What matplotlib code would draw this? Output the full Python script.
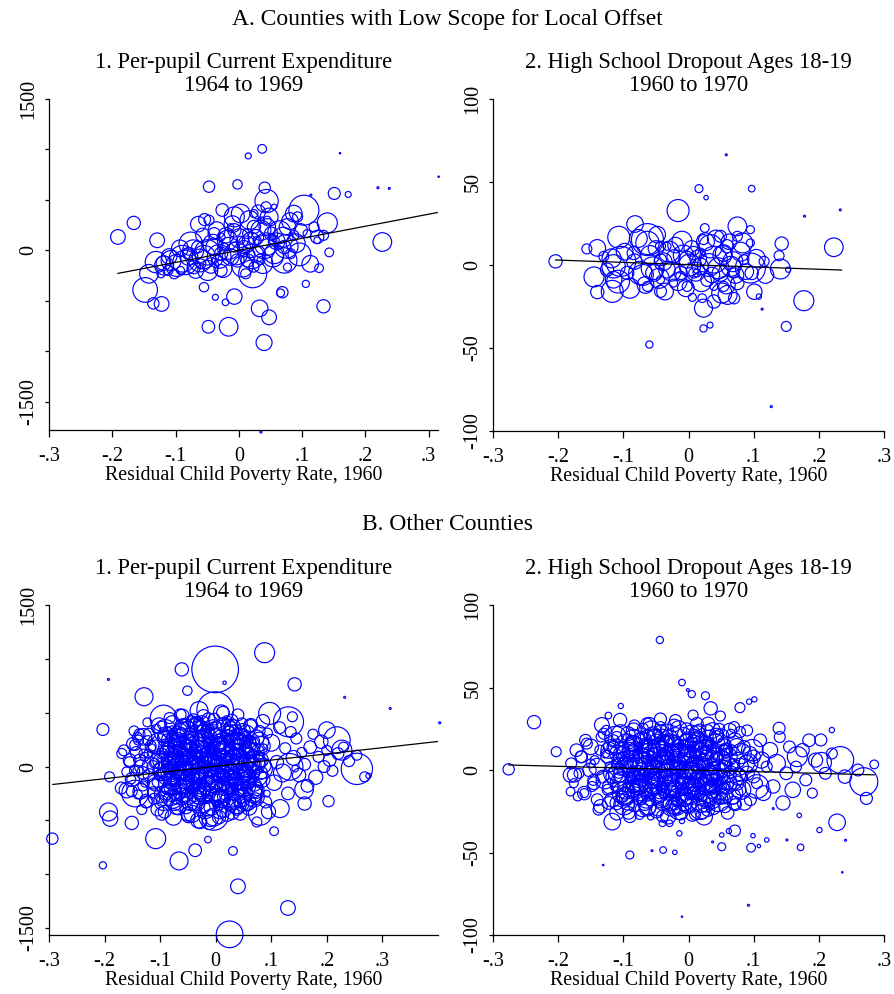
import matplotlib
matplotlib.use("Agg")
import matplotlib.pyplot as plt
import numpy as np

plt.rcParams['font.family'] = ['Liberation Serif', 'DejaVu Serif']

# ---- Panel A1: per-pupil current expenditure, low scope counties ----
a1_x = [-0.191, -0.166, -0.129, -0.047, -0.002, 0.015, 0.037, 0.160, 0.316, 0.220, 0.238, 0.151, 0.173, 0.114,
        0.041, 0.044, 0.043, 0.056, 0.103, 0.087, 0.140, 0.227, 0.143, 0.134, 0.124, 0.113, 0.127, 0.106,
        0.069, 0.066, 0.134, 0.033, 0.048, 0.040, -0.016, -0.048, -0.007, -0.021, -0.037, -0.055, 0.022,
        0.035, -0.148, -0.135, -0.122, -0.142, -0.131, -0.119, -0.107, -0.089, -0.076, -0.054, -0.047,
        -0.055, -0.049, -0.039, -0.028, -0.018, -0.007, 0.003, -0.007, -0.013, -0.002, 0.008, 0.019, 0.014,
        0.024, 0.035, 0.045, 0.051, 0.040, 0.029, 0.014, 0.024, 0.056, 0.072, 0.077, 0.093, 0.098, 0.077,
        0.108, 0.124, -0.071, -0.060, -0.034, -0.023, 0.003, 0.008, -0.007, 0.019, 0.029, 0.056, 0.045,
        0.053, -0.102, -0.092, -0.028, 0.011, 0.035, 0.072, 0.082, 0.087, 0.119, -0.065, -0.081, -0.039,
        -0.028, -0.013, 0.024, 0.035, -0.112, -0.123]
a1_y = [133, 272, 100, 631, 654, 936, 1006, 963, 730, 621, 614, 564, 554, 548,
        621, 488, 432, 432, 398, 365, 272, 83, -20, 149, 100, -133, -176, -332,
        -415, -422, -554, -574, -664, -913, -757, -757, -458, -515, -465, -365, -232,
        -1800, -392, -525, -531, -232, -116, -126, -100, -83, 66, 305, 299,
        -66, -199, 33, -33, 100, 332, 365, 199, -66, -100, 33, 100, 166,
        232, 199, 232, 166, 33, -33, -100, -166, -33, -100, 232, 332, 199, -166,
        166, 133, -166, -133, -100, 33, 100, -33, 33, -33, 100, 100, 299,
        133, -232, -199, -199, -232, -100, 33, -33, 149, 232, 33, -33, 166,
        133, 232, 365, 299, -199, -232]
a1_w = [54, 44, 54, 32, 22, 9, 19, 0.5, 0.5, 1, 1, 36, 9, 1,
        32, 136, 25, 7, 225, 69, 100, 87, 19, 25, 11, 69, 19, 13,
        32, 16, 44, 69, 54, 64, 87, 40, 59, 11, 9, 22, 196,
        1, 152, 32, 54, 87, 114, 54, 100, 178, 136, 36, 25,
        136, 100, 69, 44, 100, 100, 87, 44, 69, 44, 44, 69, 25,
        44, 100, 69, 44, 136, 69, 44, 25, 100, 160, 69, 25, 44, 16,
        16, 44, 44, 25, 25, 16, 16, 11, 25, 16, 16, 25, 16,
        11, 25, 16, 36, 25, 16, 44, 25, 25, 25, 36, 25, 36,
        16, 11, 16, 11, 25, 16]
# denser middle of the cloud
a1c_x = [-0.118, -0.110, -0.098, -0.093, -0.085, -0.079, -0.072, -0.068, -0.061, -0.057, -0.050, -0.044,
         -0.041, -0.035, -0.031, -0.025, -0.020, -0.016, -0.010, -0.004, 0.001, 0.006, 0.012, 0.017, 0.021,
         0.027, 0.031, 0.038, 0.043, 0.048, 0.054, 0.060, 0.064, 0.070, 0.075, 0.081, 0.090, 0.096,
         -0.064, -0.026]
a1c_y = [-150, -60, -150, 20, -120, -60, 0, -200, -100, 150, -20, -150, 60, 200, -60, -180, 150, 20, 260,
         -30, 120, -160, 60, 300, -60, 130, 380, -130, 60, 330, -60, 90, 180, 130, 40, 290, 70, -40, 260, 400]
a1c_w = [90, 60, 120, 70, 150, 80, 110, 60, 130, 50, 160, 60, 100, 70, 140, 80, 60, 120, 70, 130,
         90, 110, 70, 90, 150, 60, 50, 100, 130, 80, 110, 70, 130, 100, 140, 70, 90, 130, 60, 40]
a1_fit = (1194.0, 0.0)          # slope, intercept
a1_fit_range = (-0.191, 0.316)

# ---- Panel A2: high school dropout, low scope counties ----
a2_x = [-0.204, 0.058, 0.016, 0.027, 0.097, -0.016, 0.178, 0.233, 0.223, 0.143, 0.139, 0.141, 0.153, 0.177,
        0.150, 0.113, 0.127, -0.060, 0.023, 0.033, 0.023, 0.006, 0.021, 0.039, 0.051, 0.070, 0.101, 0.108,
        0.097, 0.095, 0.075, 0.095, 0.083, 0.095, 0.116, 0.025, 0.049, 0.034, 0.039, 0.054, 0.065, 0.049,
        0.029, 0.018, 0.008, -0.002, -0.010, -0.012, -0.023, -0.033, -0.043, -0.053, -0.063, -0.063,
        -0.082, -0.107, -0.104, -0.115, -0.117, -0.115, -0.140, -0.156, -0.145, -0.140, -0.043, -0.074,
        -0.084, -0.043, -0.012, 0.013, 0.070, 0.085, -0.125, -0.130, -0.033, -0.063, -0.023, -0.002,
        -0.094, 0.018, 0.059, 0.075, 0.054, 0.039, 0.008, -0.048, 0.023, -0.043, 0.075]
a2_y = [2.2, 66.4, 46.0, 40.6, 46.0, 32.8, 29.4, 33.2, 10.7, 12.9, 5.6, -2.4, -2.8, -21.5,
        -37.0, -26.6, -85.3, -47.9, -38.2, -36.2, -26.0, -19.5, -20.0, -22.0, -16.9, -20.0, -16.1, -19.0,
        -4.8, -1.8, 23.3, 21.3, 13.3, 13.3, 2.2, 22.3, 17.3, 11.3, 3.2, 7.2, -0.8, -4.8,
        -8.9, -0.8, 7.2, 3.2, 14.3, -4.8, 5.2, -2.8, 3.2, -4.8, 13.3, 15.3,
        24.7, 16.7, 2.2, -0.8, -15.9, -8.9, 10.3, 9.7, -7.2, -16.3, -15.9, -4.8,
        7.2, 11.3, -6.8, -4.8, -4.8, 3.2, -2.8, 5.2, 11.3, -12.9, -10.9, -12.9,
        -4.8, 7.2, 11.3, -10.9, -12.9, -12.9, -4.8, 18.3, 15.3, -8.9, 17.3]
a2_w = [44, 1, 16, 5, 11, 121, 1, 1, 87, 44, 25, 100, 7, 100,
        25, 1, 1, 13, 13, 9, 81, 16, 19, 44, 100, 32, 59, 7,
        44, 225, 87, 16, 100, 16, 25, 19, 36, 136, 178, 69, 100, 69,
        44, 69, 44, 69, 100, 44, 44, 69, 36, 69, 136, 256,
        69, 121, 225, 136, 121, 69, 69, 25, 100, 44, 36, 136,
        44, 25, 25, 16, 25, 25, 44, 25, 16, 25, 16, 25,
        44, 25, 44, 44, 25, 16, 25, 69, 25, 16, 25]
a2c_x = [-0.118, -0.108, -0.098, -0.090, -0.083, -0.077, -0.070, -0.066, -0.059, -0.055, -0.050, -0.045,
         -0.039, -0.036, -0.030, -0.026, -0.020, -0.016, -0.008, -0.004, 0.002, 0.005, 0.011, 0.015, 0.020,
         0.026, 0.031, 0.036, 0.042, 0.046, 0.052, 0.058, 0.062, 0.068, 0.072, 0.080, 0.088, 0.104, 0.118,
         0.060]
a2c_y = [4, -10, 8, -14, 2, 16, -6, -12, 6, -2, 10, -8, 2, -16, 8, -4, 12, -10, 6, -14, 0, 10, -4, 4, -10,
         14, 0, -6, 16, -2, 6, -12, 14, 2, -6, 8, -4, 4, -6, -18]
a2c_w = [90, 130, 70, 100, 60, 80, 110, 70, 90, 130, 60, 100, 80, 70, 110, 90, 60, 80, 100, 70,
         120, 60, 90, 70, 100, 80, 130, 60, 70, 110, 90, 80, 60, 100, 70, 90, 60, 80, 70, 90]
a2_fit = (-13.8, 0.2)
a2_fit_range = (-0.204, 0.235)

# ---- Panel B1: per-pupil current expenditure, other counties ----
b1_x = [0.088, -0.001, -0.061, -0.193, 0.016, 0.142, -0.129, -0.051, 0.232, 0.314, 0.403, -0.203, -0.169,
        -0.191, -0.294, -0.203, -0.108, -0.066, -0.037, -0.014, 0.031, 0.040, 0.130, 0.025, 0.105, -0.151,
        -0.190, -0.193, 0.203, 0.160, 0.159, 0.254, 0.268, 0.275, 0.254, 0.218, 0.200, 0.227, 0.131, 0.138,
        0.097, 0.133, 0.143, 0.116, 0.080, 0.074, -0.094, -0.097, -0.130, -0.139, -0.160, -0.145, -0.097,
        -0.076, -0.028, -0.004, 0.044, 0.092, -0.001,
        -0.097, -0.092, -0.089, -0.086, -0.083, -0.079, -0.077, -0.074, -0.071, -0.069, -0.066, -0.063,
        -0.061, -0.058, -0.056, -0.053, -0.051, -0.048, -0.046, -0.044, -0.041, -0.039, -0.037, -0.034,
        -0.032, -0.029, -0.027, -0.025, -0.022, -0.019, -0.017, -0.015, -0.012, -0.010, -0.008, -0.005,
        -0.003, 0.000, 0.002, 0.005, 0.007, 0.010, 0.012, 0.015, 0.018, 0.020, 0.023, 0.026, 0.028, 0.031,
        0.034, 0.036, 0.039, 0.042, 0.045, 0.048, 0.051, 0.054, 0.057, 0.060, 0.063, 0.066, 0.069, 0.072,
        0.075, 0.078, 0.082, 0.086, 0.090, 0.093,
        -0.085, -0.080, -0.072, -0.068, -0.062, -0.057, -0.052, -0.047, -0.043, -0.038, -0.033, -0.028,
        -0.024, -0.020, -0.016, -0.011, -0.007, -0.002, 0.003, 0.008, 0.013, 0.017, 0.022, 0.027, 0.032,
        0.037, 0.041, 0.046, 0.052, 0.058, 0.064, 0.070, -0.090, -0.060, -0.030, 0.000, 0.030, 0.060,
        -0.075, -0.045, -0.015, 0.015, 0.045, 0.075, -0.035, 0.005, 0.025, -0.055,
        -0.155, -0.150, -0.145, -0.140, -0.135, -0.130, -0.125, -0.120, -0.117, -0.112, -0.108, -0.105,
        -0.102, -0.100, -0.060, -0.030, 0.010, 0.040, -0.050, -0.010, 0.030, 0.060, 0.100, 0.105, 0.110,
        0.115, 0.120, 0.125, 0.130, 0.140, 0.145, 0.150, 0.155, 0.160, 0.170, 0.175, 0.180, 0.185, 0.190,
        0.195, 0.200, 0.205, 0.210, 0.220, 0.230, 0.240, 0.095, 0.085, -0.165, -0.160, -0.170, 0.135, 0.165]
b1_y = [1057, 902, 902, 809, 778, 763, 648, 704, 642, 539, 406, 344, 121,
        -96, -670, -918, -670, -877, -778, -679, -784, -1113, -1314, -1559, -601, -524,
        -484, -422, -322, -344, -214, -22, -96, -87, 105, 245, 338, 152, 415, 462,
        493, -3, -19, -391, -437, -515, 446, 384, 276, 245, -220, -251, -437,
        -468, -515, -453, -437, -251, 524,
        120, -60, 260, -210, 40, 330, -130, 180, -300, 80, -20, 240,
        -190, 390, 130, -90, 20, -260, 300, 190, -40, -350, 90, -150,
        420, 250, -230, 10, -70, 150, 340, -300, 60, -120, 210, -20,
        380, -200, 100, -360, 280, -60, 160, -260, 30, 430, -140, 220, -20, -320,
        110, 330, -90, 200, -210, 50, 280, -40, -280, 130, 380, -130, 20, 240,
        -220, 90, -60, 170, -330, 310,
        170, -20, 110, -80, 60, -140, 200, 100, -200, 30, 170, -110,
        290, -10, 80, -240, 130, 40, -100, 200, -170, 90, -50, 150, 20,
        -160, 260, -10, 160, -90, 60, -170, -250, 300, -290, 300, -250, 230,
        30, -60, 220, 0, 120, -30, -180, 60, -80, 60,
        60, -120, 200, -40, -230, 120, -320, 300, 10, -160, 180, -400,
        380, -70, 470, 520, 500, 480, -440, -480, -430, -380, 220, -150, 40,
        360, -60, 170, -250, 80, 260, -80, 130, 20, 180, 300, -100, 90, 230,
        0, 150, 60, -40, 120, 180, 50, -420, 420, 150, -50, -200, 320, -180]
b1_w = [100, 544, 44, 1, 3, 44, 81, 22, 1, 1, 1, 36, 25,
        25, 32, 13, 100, 81, 40, 11, 19, 54, 54, 178, 19, 44,
        59, 81, 32, 44, 87, 245, 25, 7, 25, 178, 69, 100, 225, 25,
        121, 178, 11, 81, 136, 25, 178, 16, 69, 25, 59, 178, 44,
        69, 44, 225, 44, 11, 336,
        30, 45, 20, 35, 60, 25, 18, 40, 28, 15, 50, 22,
        38, 30, 12, 26, 70, 16, 35, 20, 14, 40, 55, 24,
        18, 45, 30, 20, 65, 12, 28, 22, 35, 16, 50, 25,
        14, 40, 20, 30, 36, 18, 60, 25, 45, 20, 32, 15, 28, 50,
        22, 40, 16, 30, 45, 18, 25, 38, 20, 28, 35, 22, 50, 14,
        30, 26, 40, 18, 35, 25,
        30, 45, 25, 40, 35, 50, 28, 42, 33, 48, 26, 38,
        34, 46, 27, 40, 32, 50, 29, 41, 36, 47, 25, 39, 31,
        44, 28, 37, 33, 49, 26, 40, 45, 38, 46, 30, 36, 43,
        22, 25, 20, 24, 21, 23, 18, 20, 19, 22,
        40, 50, 30, 25, 60, 20, 45, 35, 70, 28, 50, 40,
        60, 22, 45, 80, 60, 35, 50, 70, 45, 60, 70, 60, 45,
        35, 80, 30, 40, 55, 30, 45, 25, 35, 40, 25, 50, 30, 45,
        35, 25, 40, 30, 35, 25, 30, 50, 45, 30, 25, 35, 30, 40]
# the solid core of the cloud
b1c_x = [-0.108, -0.104, -0.099, -0.094, -0.091, -0.087, -0.084, -0.081, -0.078, -0.076,
         -0.073, -0.070, -0.067, -0.065, -0.062, -0.059, -0.057, -0.054, -0.052, -0.049,
         -0.047, -0.044, -0.042, -0.040, -0.038, -0.035, -0.033, -0.031, -0.028, -0.026,
         -0.024, -0.021, -0.019, -0.016, -0.014, -0.011, -0.009, -0.006, -0.004, -0.001,
         0.001, 0.004, 0.006, 0.009, 0.011, 0.014, 0.016, 0.019, 0.022, 0.024,
         0.027, 0.029, 0.032, 0.035, 0.037, 0.040, 0.043, 0.046, 0.049, 0.052,
         0.055, 0.058, 0.061, 0.064, 0.067, 0.071, 0.074, 0.077, 0.081, 0.084,
         -0.102, -0.096, -0.090, -0.085, -0.079, -0.074, -0.069, -0.064, -0.060, -0.055,
         -0.050, -0.046, -0.041, -0.037, -0.032, -0.028, -0.023, -0.018, -0.013, -0.009,
         -0.004, 0.000, 0.005, 0.009, 0.014, 0.018, 0.023, 0.027, 0.032, 0.036,
         0.041, 0.046, 0.050, 0.055, 0.059, 0.064, 0.069, 0.073, 0.078, 0.083,
         -0.098, -0.088, -0.078, -0.068, -0.058, -0.048, -0.038, -0.028, -0.018, -0.008,
         0.002, 0.012, 0.022, 0.032, 0.042, 0.052, 0.062, 0.072, 0.082, -0.093,
         -0.073, -0.053, -0.033, -0.013, 0.007, 0.027, 0.047, 0.067, 0.087, -0.063]
b1c_y = [-150, 210, 50, -320, 330, -40, 140, -230, 400, 0,
         -110, 260, -380, 90, 190, -190, 350, -60, 30, -280,
         240, 120, -140, 420, -20, -330, 170, 60, -210, 310,
         -90, 200, -400, 80, -160, 280, 10, -250, 360, -110,
         150, -30, 230, -300, 70, 390, -180, 120, -70, 300,
         -350, 20, 180, -240, 260, -120, 90, -290, 330, 0,
         -180, 210, -60, 150, -250, 40, 270, -100, 190, -20,
         60, -260, 300, -80, 180, -330, 110, -20, 340, -200,
         230, -120, 40, 380, -270, 150, -50, 260, -390, 100,
         -160, 320, 20, -230, 200, -70, 370, -310, 130, -10,
         240, -200, 70, 310, -140, 190, -280, 40, 230, -120,
         -30, 120, -190, 250, -100, 170, -260, 60, 330, -40,
         200, -300, 110, -170, 280, -80, 150, -220, 60, 280,
         -240, -380, 400, 440, -420, 360, -350, 100, 10, 340]
b1c_w = [70, 110, 60, 90, 130, 50, 80, 100, 60, 140,
         75, 95, 55, 120, 85, 65, 105, 70, 150, 60,
         90, 115, 75, 55, 130, 80, 65, 100, 90, 60,
         120, 70, 85, 110, 60, 50, 140, 90, 65, 115,
         80, 125, 55, 75, 100, 50, 90, 115, 140, 65,
         55, 105, 80, 70, 90, 120, 65, 85, 55, 130,
         90, 70, 100, 65, 80, 115, 55, 70, 90, 100,
         80, 65, 55, 115, 90, 70, 105, 130, 65, 80,
         55, 100, 115, 50, 70, 90, 140, 65, 55, 115,
         80, 105, 70, 130, 90, 65, 55, 100, 80, 115,
         70, 90, 140, 65, 55, 80, 105, 70, 90, 65,
         50, 60, 70, 50, 60, 70, 50, 60, 70, 50,
         60, 70, 50, 60, 70, 50, 60, 70, 50, 40,
         50, 40, 50, 40, 50, 40, 50, 40, 50, 40]
b1d_x = [-0.095, -0.088, -0.081, -0.074, -0.067, -0.060, -0.053, -0.046, -0.039, -0.032,
         -0.025, -0.018, -0.011, -0.004, 0.003, 0.010, 0.017, 0.024, 0.031, 0.038,
         0.045, 0.052, 0.059, 0.066, -0.091, -0.077, -0.063, -0.049, -0.035, -0.021,
         -0.007, 0.007, 0.021, 0.035, 0.049, 0.063, -0.084, -0.070, -0.056, -0.042,
         -0.028, -0.014, 0.000, 0.014, 0.028, 0.042, 0.056, 0.070, -0.080, -0.058,
         -0.036, -0.014, 0.008, 0.030, 0.052, -0.069, -0.047, -0.025, -0.003, 0.019]
b1d_y = [-40, 180, -260, 60, 300, -150, 120, -330, 220, -20,
         -220, 160, -90, 280, -280, 40, 200, -160, 90, -350,
         250, -60, 150, -200, 260, -300, 0, 340, -120, 80,
         -380, 180, -60, 240, -250, 20, -160, 230, -60, -440,
         330, -180, 200, -400, 310, -100, -330, 130, 40, -230,
         390, -10, -300, 360, -140, 100, 20, 400, -470, -40]
b1d_w = [100, 70, 120, 80, 60, 130, 90, 70, 110, 140,
         80, 60, 120, 90, 70, 130, 80, 100, 60, 90,
         110, 70, 80, 100, 60, 90, 140, 70, 110, 80,
         60, 100, 130, 70, 90, 80, 110, 60, 120, 70,
         90, 100, 80, 60, 70, 130, 80, 90, 100, 120,
         60, 110, 80, 70, 90, 100, 130, 60, 80, 120]
# left flank and upper/lower rim of the core
b1e_x = [-0.155, -0.152, -0.149, -0.146, -0.143, -0.140, -0.137, -0.134, -0.131, -0.128,
         -0.125, -0.122, -0.119, -0.116, -0.113, -0.110, -0.107, -0.104, -0.151, -0.141,
         -0.131, -0.121, -0.111, -0.147, -0.137, -0.127, -0.117, -0.133, -0.123, -0.113,
         -0.092, -0.083, -0.071, -0.064, -0.049, -0.043, -0.031, -0.022, -0.012, -0.003,
         0.006, 0.013, 0.021, 0.029, 0.038, 0.047, 0.056, 0.063, 0.072, 0.079,
         -0.087, -0.059, -0.040, -0.017, 0.002, 0.025, 0.044, 0.061, -0.076, 0.011]
b1e_y = [40, -120, 210, -40, 130, -260, 300, 0, -180, 90,
         -330, 240, -80, 170, -240, 30, 350, -140, -230, 270,
         -60, 120, -300, 330, 60, -150, 190, -400, 410, 0,
         -420, 450, -380, 480, -460, 420, -500, 470, -520, 440,
         -470, 500, -440, 430, -390, 400, -350, 380, -300, 330,
         -130, 210, -240, 350, -350, 260, -180, 100, 290, -80]
b1e_w = [30, 20, 40, 25, 35, 20, 30, 45, 25, 20,
         35, 25, 40, 20, 30, 25, 20, 35, 30, 25,
         40, 20, 30, 25, 35, 20, 30, 25, 20, 35,
         40, 30, 50, 35, 45, 30, 60, 40, 50, 35,
         45, 40, 55, 35, 45, 30, 40, 50, 35, 30,
         15, 12, 18, 15, 12, 18, 15, 12, 18, 15]
b1f_x = [-0.100, -0.094, -0.089, -0.083, -0.078, -0.072, -0.067, -0.061, -0.056, -0.050,
         -0.045, -0.039, -0.034, -0.028, -0.023, -0.017, -0.012, -0.006, -0.001, 0.005,
         0.010, 0.016, 0.021, 0.027, 0.032, 0.038, 0.043, 0.049, 0.054, 0.060,
         -0.097, -0.086, -0.075, -0.064, -0.053, -0.042, -0.031, -0.020, -0.009, 0.002,
         0.013, 0.024, 0.035, 0.046, 0.057, 0.068, -0.080, -0.048, -0.016, 0.018]
b1f_y = [-80, 140, -210, 30, 250, -120, 190, -300, 80, -30,
         270, -190, 130, -260, 50, 310, -150, -40, 210, -280,
         120, -90, 280, -200, 20, 160, -330, 240, -60, 50,
         -320, 320, -10, -250, 200, -80, 380, -380, 170, -180,
         -280, 330, -120, -220, 240, -50, -30, 100, 0, 60]
b1f_w = [30, 40, 25, 35, 45, 30, 25, 40, 35, 30,
         45, 25, 35, 40, 30, 25, 45, 35, 30, 40,
         25, 35, 45, 30, 40, 25, 35, 30, 45, 40,
         30, 25, 40, 35, 30, 45, 25, 30, 35, 40,
         30, 25, 45, 35, 30, 40, 25, 35, 30, 45]
b1_fit = (576.0, 2.0)
b1_fit_range = (-0.293, 0.40)

# ---- Panel B2: high school dropout, other counties ----
b2_x = [-0.276, -0.237, -0.203, -0.044, -0.010, 0.005, -0.001, 0.026, 0.034, 0.049, 0.007, 0.079, 0.093,
        0.101, -0.104, -0.123, -0.133, -0.105, -0.043, 0.139, 0.220, 0.203, 0.233, 0.269, 0.285, 0.273,
        0.228, 0.201, 0.241, 0.236, 0.172, 0.170, 0.151, 0.120, 0.096, 0.108, 0.099, 0.092, 0.130, 0.071,
        0.062, 0.051, 0.051, 0.037, -0.014, -0.010, -0.039, -0.021, -0.056, -0.090, -0.131, -0.010,
        -0.117, -0.075, -0.058, -0.040, -0.029, -0.181, -0.181, 0.204, 0.167, 0.024,
        -0.125, -0.120, -0.115, -0.110, -0.105, -0.100, -0.097, -0.093, -0.090, -0.087, -0.083, -0.080,
        -0.077, -0.073, -0.070, -0.067, -0.063, -0.060, -0.057, -0.053, -0.050, -0.047, -0.043, -0.040,
        -0.037, -0.033, -0.030, -0.027, -0.023, -0.020, -0.017, -0.013, -0.010, -0.007, -0.003, 0.000,
        0.003, 0.007, 0.010, 0.013, 0.017, 0.020, 0.023, 0.027, 0.030, 0.033, 0.037, 0.040, 0.043, 0.047,
        0.050, 0.055, 0.060, 0.065, 0.070, 0.075, 0.080, 0.085, 0.090, 0.095, 0.100, 0.105, 0.110, 0.115,
        0.120,
        -0.095, -0.085, -0.078, -0.070, -0.065, -0.058, -0.052, -0.045, -0.040, -0.035, -0.030, -0.025,
        -0.020, -0.015, -0.010, -0.005, 0.000, 0.005, 0.010, 0.015, 0.020, 0.025, 0.030, 0.035, 0.040,
        0.045, 0.050, 0.055, -0.088, -0.072, -0.048, -0.018, 0.008, 0.032, -0.060, -0.035, -0.012, 0.018,
        0.042, -0.080,
        -0.175, -0.165, -0.160, -0.150, -0.145, -0.140, -0.135, -0.130, 0.125, 0.130, 0.135, 0.140, 0.145,
        0.150, 0.155, 0.160, 0.165, 0.175, 0.180, 0.185, 0.190, 0.195, 0.210, 0.220, 0.240, 0.260, -0.060,
        -0.020, 0.030, 0.070, -0.090, -0.040, 0.010, 0.060, -0.110, 0.090]
b2_y = [0.4, 29.0, 11.1, 78.8, 53.0, 46.0, 48.5, 45.0, 37.4, 32.7, 33.3, 37.8, 41.4,
        42.8, 38.8, 33.0, 27.3, 30.3, 30.9, 25.3, 24.2, 18.2, 6.1, -7.1, 3.4, -17.2,
        -31.7, -36.4, -42.6, -62.0, -46.9, -27.5, -42.4, -42.4, -47.1, -46.1, -39.8, -82.0, -23.4, -36.8,
        -37.0, -39.4, -46.5, -43.6, -38.4, -30.9, -48.5, -49.9, -48.9, -51.5, -57.6, -88.9,
        -31.3, -27.3, -28.3, -32.3, -32.3, -13.1, -3.0, 4.6, 8.1, -28.3,
        8, -10, 18, -20, 2, 14, -14, 22, -4, 10, -22, 4,
        17, -10, 25, -2, 12, -18, 6, 20, -8, -24, 15, 0,
        -14, 24, 8, -6, 18, -20, 3, 12, -12, 22, -3, -22,
        8, 17, -9, 1, 24, -16, 10, -4, -24, 16, -10, 4, 20, -18,
        0, 12, -8, 22, -20, 6, -12, 14, -2, -18, 8, -8, 18, -14,
        2,
        4, -10, 10, -4, 16, -12, 6, -16, 12, -4, 18, -12,
        8, -18, 2, 14, -8, 0, 10, -14, 4, 16, -6, 8, -16,
        10, -10, 2, 18, -18, 22, -24, 22, -20, 0, 6, -6, -2,
        -4, -6,
        -3, 8, -14, 14, -8, 2, -22, 22, 12, -10, 4, 20, -20,
        -2, 14, -12, 2, 12, -6, 18, -14, 6, -2, 10, -4, 0, 28,
        30, 28, 26, -28, -28, -27, -26, -26, 24]
b2_w = [32, 44, 25, 13, 11, 13, 2, 16, 44, 25, 25, 25, 7,
        7, 7, 11, 54, 44, 36, 36, 7, 36, 178, 196, 19, 36,
        69, 7, 1, 0.5, 11, 5, 1, 5, 19, 3, 5, 1, 1, 32,
        7, 5, 16, 1, 7, 7, 11, 5, 1, 16, 0.5, 0.5,
        69, 19, 11, 11, 11, 19, 54, 100, 100, 69,
        40, 60, 30, 45, 70, 25, 35, 50, 20, 60, 30, 40,
        18, 55, 30, 22, 45, 35, 16, 60, 28, 40, 20, 70,
        25, 40, 18, 50, 30, 45, 22, 60, 30, 40, 18, 55,
        35, 20, 45, 28, 40, 25, 60, 30, 45, 22, 50, 30, 40, 25,
        55, 30, 40, 20, 45, 60, 30, 40, 50, 35, 45, 30, 40, 55,
        30,
        30, 45, 25, 40, 35, 50, 28, 42, 33, 48, 26, 38,
        34, 46, 27, 40, 32, 50, 29, 41, 36, 47, 25, 39, 31,
        44, 28, 37, 22, 25, 20, 24, 21, 23, 18, 20, 19, 22,
        20, 22,
        50, 35, 45, 60, 40, 70, 45, 30, 60, 45, 80, 30, 50,
        40, 35, 60, 30, 45, 35, 40, 25, 50, 35, 30, 45, 35, 40,
        35, 45, 30, 40, 35, 30, 40, 50, 30]
b2c_x = [-0.128, -0.122, -0.117, -0.112, -0.108, -0.103, -0.099, -0.095, -0.091, -0.088,
         -0.084, -0.081, -0.078, -0.075, -0.072, -0.069, -0.066, -0.063, -0.061, -0.058,
         -0.055, -0.052, -0.050, -0.047, -0.044, -0.042, -0.039, -0.036, -0.034, -0.031,
         -0.028, -0.026, -0.023, -0.020, -0.018, -0.015, -0.012, -0.010, -0.007, -0.004,
         -0.002, 0.001, 0.004, 0.006, 0.009, 0.012, 0.015, 0.018, 0.021, 0.024,
         0.027, 0.030, 0.033, 0.036, 0.039, 0.043, 0.046, 0.050, 0.054, 0.058,
         0.062, 0.066, 0.071, 0.076, 0.081, 0.086, 0.092, 0.098, 0.105, 0.112,
         -0.119, -0.111, -0.104, -0.097, -0.090, -0.084, -0.078, -0.072, -0.067, -0.062,
         -0.057, -0.052, -0.047, -0.042, -0.038, -0.033, -0.029, -0.024, -0.019, -0.015,
         -0.010, -0.005, 0.000, 0.004, 0.009, 0.013, 0.018, 0.022, 0.027, 0.031,
         0.036, 0.041, 0.045, 0.050, 0.056, 0.061, 0.067, 0.074, 0.081, 0.089,
         -0.093, -0.083, -0.073, -0.063, -0.053, -0.043, -0.033, -0.023, -0.013, -0.003,
         0.007, 0.017, 0.027, 0.037, 0.047, 0.057, 0.068, 0.079, 0.094, -0.108,
         -0.086, -0.066, -0.046, -0.026, -0.006, 0.014, 0.034, 0.054, 0.074, 0.100]
b2c_y = [-6, 12, -18, 20, -2, 9, -21, 15, 3, -12,
         24, -7, 6, -17, 18, -1, 11, -23, 7, -9,
         21, 0, -15, 13, -5, 23, -19, 5, 16, -11,
         2, -22, 10, 19, -8, 25, -14, 4, -4, 14,
         -20, 8, 22, -13, 1, 17, -6, -24, 11, 5,
         -16, 19, -3, 9, -10, 21, -18, 6, 14, -8,
         2, -14, 18, -4, 10, -20, 4, 12, -10, 6,
         14, -4, 22, -16, 6, 18, -10, 2, -20, 12,
         24, -6, 8, -18, 16, -2, 20, -12, 4, -24,
         10, -8, 18, -14, 0, 22, -6, 12, -20, 6,
         -12, 16, -2, 20, -16, 8, -6, 14, -12, 4,
         -20, 16, -8, 20, 2, -14, 10, -22, 0, 18,
         -10, 6, -18, 24, -4, 12, -16, 2, 10, 4,
         -12, 14, -6, 8, -18, 20, -2, 16, -8, -4]
b2c_w = [80, 65, 55, 115, 90, 70, 105, 130, 65, 80,
         55, 100, 115, 50, 70, 90, 140, 65, 55, 115,
         70, 110, 60, 90, 130, 50, 80, 100, 60, 140,
         75, 95, 55, 120, 85, 65, 105, 70, 150, 60,
         90, 115, 75, 55, 130, 80, 65, 100, 90, 60,
         120, 70, 85, 110, 60, 50, 140, 90, 65, 115,
         80, 125, 55, 75, 100, 50, 90, 115, 140, 65,
         55, 105, 80, 70, 90, 120, 65, 85, 55, 130,
         90, 70, 100, 65, 80, 115, 55, 70, 90, 100,
         80, 105, 70, 130, 90, 65, 55, 100, 80, 115,
         70, 90, 140, 65, 55, 80, 105, 70, 90, 65,
         50, 60, 70, 50, 60, 70, 50, 60, 70, 50,
         60, 70, 50, 60, 70, 50, 60, 70, 50, 40,
         50, 40, 50, 40, 50, 40, 50, 40, 50, 40]
b2d_x = [-0.115, -0.108, -0.100, -0.093, -0.086, -0.079, -0.072, -0.065, -0.058, -0.051,
         -0.044, -0.037, -0.030, -0.023, -0.016, -0.009, -0.002, 0.005, 0.012, 0.019,
         0.026, 0.033, 0.040, 0.047, -0.111, -0.097, -0.083, -0.069, -0.055, -0.041,
         -0.027, -0.013, 0.001, 0.015, 0.029, 0.043, -0.104, -0.090, -0.076, -0.062,
         -0.048, -0.034, -0.020, -0.006, 0.008, 0.022, 0.036, 0.050, -0.095, -0.073,
         -0.051, -0.029, -0.007, 0.015, 0.037, -0.084, -0.062, -0.040, -0.018, 0.004]
b2d_y = [-2, 10, -14, 4, 16, -8, 6, -18, 12, -2,
         -12, 8, -6, 14, -16, 2, 10, -10, 4, -20,
         12, -4, 8, -12, 14, -16, 0, 18, -8, 4,
         -20, 10, -4, 12, -14, 0, -8, 12, -4, -22,
         16, -10, 10, -20, 16, -6, -18, 6, 2, -12,
         20, 0, -16, 18, -8, 6, 2, 20, -22, -2]
b2d_w = [100, 70, 120, 80, 60, 130, 90, 70, 110, 140,
         80, 60, 120, 90, 70, 130, 80, 100, 60, 90,
         110, 70, 80, 100, 60, 90, 140, 70, 110, 80,
         60, 100, 130, 70, 90, 80, 110, 60, 120, 70,
         90, 100, 80, 60, 70, 130, 80, 90, 100, 120,
         60, 110, 80, 70, 90, 100, 130, 60, 80, 120]
b2e_x = [-0.180, -0.176, -0.172, -0.168, -0.164, -0.160, -0.156, -0.152, -0.148, -0.144,
         -0.140, -0.136, -0.132, -0.128, -0.124, -0.120, -0.170, -0.158, -0.146, -0.134,
         -0.122, -0.150, -0.138, -0.126, -0.116, -0.113, -0.110, -0.107, -0.104, -0.101,
         -0.092, -0.083, -0.071, -0.064, -0.049, -0.043, -0.031, -0.022, -0.012, -0.003,
         0.006, 0.013, 0.021, 0.029, 0.038, 0.047, 0.056, 0.063, 0.072, 0.079,
         -0.087, -0.059, -0.040, -0.017, 0.002, 0.025, 0.044, 0.061, -0.076, 0.011]
b2e_y = [4, -8, 12, -2, 8, -14, 16, 0, -10, 6,
         -18, 12, -4, 10, -12, 2, -16, 18, -6, 20,
         -20, 4, -24, 24, 14, -10, 20, -2, 8, -16,
         -26, 27, -24, 28, -25, 26, -28, 27, -26, 25,
         -27, 28, -25, 24, -23, 25, -22, 24, -21, 23,
         -6, 10, -12, 16, -16, 12, -8, 4, 14, -4]
b2e_w = [30, 20, 40, 25, 35, 20, 30, 45, 25, 20,
         35, 25, 40, 20, 30, 25, 20, 35, 30, 25,
         40, 20, 30, 25, 35, 20, 30, 25, 20, 35,
         40, 30, 50, 35, 45, 30, 60, 40, 50, 35,
         45, 40, 55, 35, 45, 30, 40, 50, 35, 30,
         15, 12, 18, 15, 12, 18, 15, 12, 18, 15]
b2f_x = [-0.105, -0.099, -0.093, -0.087, -0.081, -0.075, -0.069, -0.063, -0.057, -0.051,
         -0.045, -0.039, -0.033, -0.027, -0.021, -0.015, -0.009, -0.003, 0.003, 0.009,
         0.015, 0.021, 0.027, 0.033, 0.039, 0.045, 0.051, 0.057, 0.063, 0.069,
         -0.102, -0.090, -0.078, -0.066, -0.054, -0.042, -0.030, -0.018, -0.006, 0.006,
         0.018, 0.030, 0.042, 0.054, 0.066, 0.078, -0.084, -0.048, -0.012, 0.024]
b2f_y = [-4, 7, -11, 2, 13, -6, 10, -15, 4, -2,
         14, -10, 7, -13, 3, 16, -8, -2, 11, -14,
         6, -5, 14, -10, 1, 8, -17, 12, -3, 3,
         -16, 16, -1, -13, 10, -4, 19, -19, 9, -9,
         -14, 17, -6, -11, 12, -3, -2, 5, 0, 3]
b2f_w = [30, 40, 25, 35, 45, 30, 25, 40, 35, 30,
         45, 25, 35, 40, 30, 25, 45, 35, 30, 40,
         25, 35, 45, 30, 40, 25, 35, 30, 45, 40,
         30, 25, 40, 35, 30, 45, 25, 30, 35, 40,
         30, 25, 45, 35, 30, 40, 25, 35, 30, 45]
b2_fit = (-10.7, 0.1)
b2_fit_range = (-0.276, 0.285)

panel_title_exp = "1. Per-pupil Current Expenditure\n1964 to 1969"
panel_title_drop = "2. High School Dropout Ages 18-19\n1960 to 1970"
x_label = "Residual Child Poverty Rate, 1960"
x_ticks = [-0.3, -0.2, -0.1, 0, 0.1, 0.2, 0.3]
x_tick_labels = ["-.3", "-.2", "-.1", "0", ".1", ".2", ".3"]

W, H = 894, 994
fig = plt.figure(figsize=(W / 100, H / 100), dpi=100)


def px_axes(left, top, right, bottom):
    return fig.add_axes([left / W, 1 - bottom / H, (right - left) / W, (bottom - top) / H])


def draw_panel(ax, xs, ys, ws, fit, fit_range, xlim, ylim, yticks, ylabels, title):
    ax.scatter(xs, ys, s=np.array(ws) * 2.07, facecolors='none', edgecolors='#0000ff',
               linewidths=0.85, clip_on=False, zorder=2)
    fx = np.array(fit_range)
    ax.plot(fx, fit[0] * fx + fit[1], color='black', lw=0.9, zorder=3)
    ax.set_xlim(*xlim)
    ax.set_ylim(*ylim)
    ax.set_xticks(x_ticks)
    ax.set_xticklabels(x_tick_labels)
    ax.set_yticks(yticks)
    ax.set_yticklabels(ylabels, rotation=90, va='center')
    ax.spines['top'].set_visible(False)
    ax.spines['right'].set_visible(False)
    for sp in ('left', 'bottom'):
        ax.spines[sp].set_linewidth(0.9)
    ax.tick_params(axis='x', length=5, width=0.9, labelsize=14.5, pad=7.5)
    ax.tick_params(axis='y', length=3, width=0.9, labelsize=14.5, pad=4.5)
    ax.set_xlabel(x_label, fontsize=14.3, labelpad=0)
    ax.set_title(title, fontsize=16.3, linespacing=1.1, pad=6)


exp_ticks = [-1500, -1000, -500, 0, 500, 1000, 1500]
exp_labels = ["-1500", "", "", "0", "", "", "1500"]
drop_ticks = [-100, -50, 0, 50, 100]
drop_labels = ["-100", "-50", "0", "50", "100"]

ax1 = px_axes(49, 99, 438, 430)
draw_panel(ax1, a1_x + a1c_x, a1_y + a1c_y, a1_w + a1c_w, a1_fit, a1_fit_range,
           (-0.3, 0.315), (-1780, 1500), exp_ticks, exp_labels, panel_title_exp)
ax2 = px_axes(493, 99, 884, 431)
draw_panel(ax2, a2_x + a2c_x, a2_y + a2c_y, a2_w + a2c_w, a2_fit, a2_fit_range,
           (-0.3, 0.3), (-100, 100), drop_ticks, drop_labels, panel_title_drop)
ax3 = px_axes(49, 605, 438, 935)
draw_panel(ax3, b1_x + b1c_x + b1d_x + b1e_x + b1f_x, b1_y + b1c_y + b1d_y + b1e_y + b1f_y,
           b1_w + b1c_w + b1d_w + b1e_w + b1f_w, b1_fit, b1_fit_range,
           (-0.3, 0.40), (-1565, 1500), exp_ticks, exp_labels, panel_title_exp)
ax4 = px_axes(493, 605, 884, 935)
draw_panel(ax4, b2_x + b2c_x + b2d_x + b2e_x + b2f_x, b2_y + b2c_y + b2d_y + b2e_y + b2f_y,
           b2_w + b2c_w + b2d_w + b2e_w + b2f_w, b2_fit, b2_fit_range,
           (-0.3, 0.3), (-100, 100), drop_ticks, drop_labels, panel_title_drop)

fig.text(0.5, 1 - 19 / H, "A. Counties with Low Scope for Local Offset", ha='center', va='center', fontsize=17)
fig.text(0.5, 1 - 524 / H, "B. Other Counties", ha='center', va='center', fontsize=17)

fig.savefig("out.png", dpi=100)
